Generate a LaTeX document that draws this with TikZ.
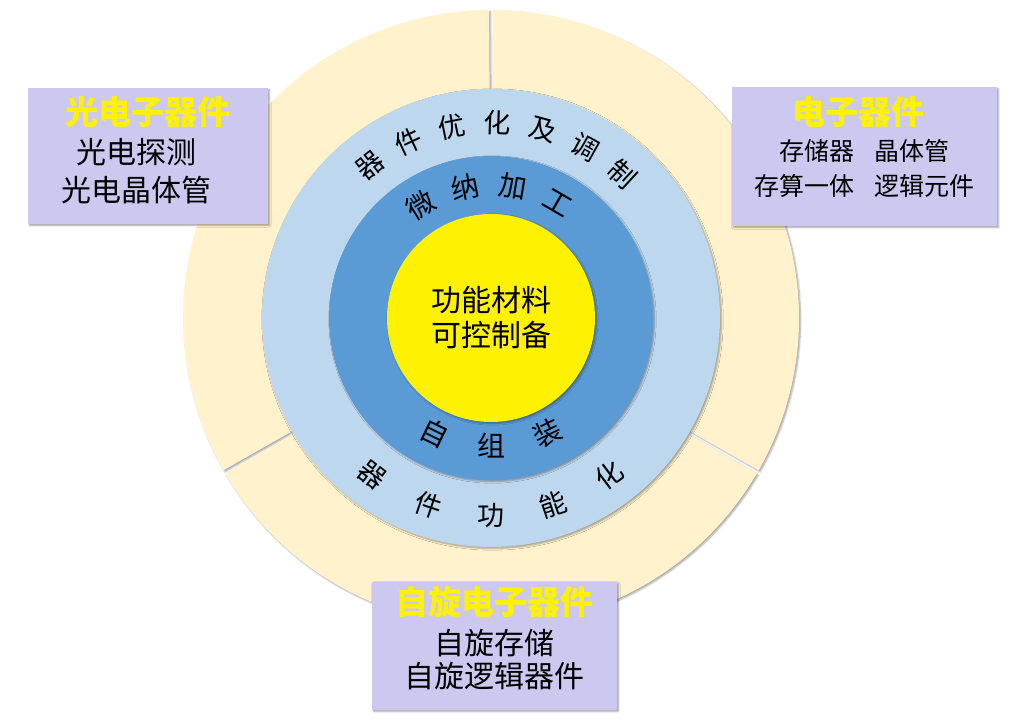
\documentclass[tikz,border=0pt]{standalone}
\usepackage{fontspec}
\usepackage{tikz}
\usepackage{xcolor}
\usetikzlibrary{positioning,shadows.blur}
\newfontfamily\cjk{Noto Sans CJK SC}
\definecolor{ringc}{HTML}{FFF2CC}
\definecolor{lblue}{HTML}{BDD7EE}
\definecolor{mblue}{HTML}{5B9BD5}
\definecolor{boxc}{HTML}{CCC8F0}

\begin{document}
\begin{tikzpicture}[x=1pt,y=1pt]%
  \tikzstyle{shad}=[blur shadow={shadow xshift=1.5pt,shadow yshift=-1.5pt,shadow blur steps=4,shadow opacity=35}]
  \tikzstyle{seg}=[fill=ringc,shad]
  \tikzstyle{disc}=[circle,inner sep=0,shad]
  \tikzstyle{boxn}=[rectangle,fill=boxc,inner sep=0,shad]
  \tikzstyle{titn}=[inner sep=0,text=yellow,font=\cjk\bfseries\fontsize{33}{36}\selectfont]
  \tikzstyle{bodn}=[inner sep=0,align=center]
  \tikzstyle{rimo}=[inner sep=0,font=\cjk\fontsize{27}{27}\selectfont]
  \tikzstyle{rimi}=[inner sep=0,font=\cjk\fontsize{28}{28}\selectfont]
  \useasboundingbox (-491,-405) rectangle (533,318);
  % outer ring in three parts
  \foreach \a in {90,210,330}
    \fill[seg] ({\a+0.35}:308pt) arc[start angle=\a+0.35,end angle=\a+119.65,radius=308pt]
      -- ({\a+119.65}:222pt) arc[start angle=\a+119.65,end angle=\a+0.35,radius=222pt] -- cycle;
  \node[disc,fill=lblue,minimum size=458pt] (lb) at (0,0) {};
  \node[disc,fill=mblue,minimum size=324pt] (mb) at (0,0) {};
  \node[disc,fill=yellow,minimum size=208pt,align=center,font=\cjk\fontsize{30}{35}\selectfont] (core) at (0,0) {功能材料\\可控制备};
  % texts round the rings
  \foreach \c [count=\i from 0] in {器,件,优,化,及,调,制}
    \node[rimo,rotate=38.5-13.5*\i] (to\i) at ({128.5-13.5*\i}:195pt) {\c};
  \foreach \c [count=\i from 0] in {微,纳,加,工}
    \node[rimi,rotate=32-20.7*\i] (ti\i) at ({122-20.7*\i}:133pt) {\c};
  \foreach \c [count=\i from 0] in {自,组,装}
    \node[rimi,rotate=-26+26*\i] (bi\i) at ({244+26*\i}:128pt) {\c};
  \foreach \c [count=\i from 0] in {器,件,功,能,化}
    \node[rimo,rotate=-37+18.5*\i] (bo\i) at ({233+18.5*\i}:197pt) {\c};
  % boxes
  \node[boxn,minimum width=240pt,minimum height=136pt] (lbox) at (-343,162) {};
  \node[titn,below=8.5pt of lbox.north] (ltit) {光电子器件};
  \node[bodn,font=\cjk\fontsize{30}{38}\selectfont,below=10pt of ltit,xshift=-11pt] (lbod) {光电探测\\光电晶体管};
  \node[boxn,minimum width=265pt,minimum height=139pt] (rbox) at (373.5,161.5) {};
  \node[titn,below=9.5pt of rbox.north,xshift=-6pt] (rtit) {电子器件};
  \node[bodn,font=\cjk\fontsize{25}{35}\selectfont,below=11pt of rtit,xshift=6pt] (rbod) {存储器\hspace{0.8em}晶体管\\存算一体\hspace{0.8em}逻辑元件};
  \node[boxn,minimum width=245pt,minimum height=128pt] (bbox) at (3.5,-328) {};
  \node[titn,below=4.5pt of bbox.north] (btit) {自旋电子器件};
  \node[bodn,font=\cjk\fontsize{30}{33}\selectfont,below=10.5pt of btit] (bbod) {自旋存储\\自旋逻辑器件};
\end{tikzpicture}
\end{document}
